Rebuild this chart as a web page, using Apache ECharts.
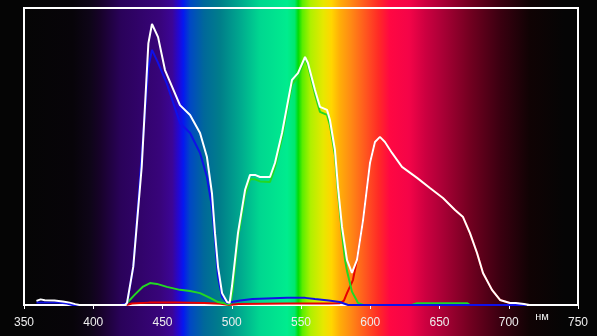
<!DOCTYPE html>
<html>
<head>
<meta charset="utf-8">
<script src="https://cdn.jsdelivr.net/npm/echarts@6/dist/echarts.min.js"></script>
<style>
  html, body { margin: 0; padding: 0; background: #050505; }
  #chart { width: 597px; height: 336px; }
</style>
</head>
<body>
<div id="chart"></div>
<script>
// длина волны, нм
const xTicks = [350, 400, 450, 500, 550, 600, 650, 700, 750]
const unitLabel = 'нм'

// суммарный спектр (белая линия)
const whiteX = [359, 362, 365, 372, 378, 383, 387, 390, 423, 424.4, 428.9, 435, 439.8, 442.4, 446.8, 451.8, 462.6, 469.9, 477.1, 482.1, 485.7, 487.9, 490.1, 493, 496.6, 498.5, 500.2, 504.5, 509.6, 513.2, 516.8, 520.4, 527.6, 531.2, 536.3, 543.5, 547.8, 552.9, 555, 560.1, 563.7, 568.8, 570.9, 574.5, 576.7, 579.6, 583.2, 586.8, 590.4, 594.8, 599.8, 603.4, 607, 610.6, 615.7, 622.9, 633.8, 643.1, 652.5, 661.2, 667, 672, 677.1, 681.4, 687.9, 693.7, 700.9, 705, 711, 715, 750]
const whiteY = [1.4, 1.9, 1.6, 1.5, 1.2, 0.8, 0.3, 0, 0, 0.7, 12.9, 46.6, 88.1, 94.6, 90.2, 79.1, 67.3, 64, 57.9, 49.8, 37.7, 24.2, 12.8, 4, 1, 0.7, 6.4, 24.2, 38.7, 43.8, 43.8, 43.1, 43.1, 47.8, 57.9, 75.8, 78.1, 83.5, 81.5, 72.4, 66.7, 65.7, 62.3, 52.2, 39.7, 26.3, 15.2, 10.8, 15.2, 28.6, 47.8, 54.9, 56.6, 54.9, 51.2, 46.5, 42.8, 39.4, 36, 32, 29.6, 24.2, 17.5, 10.8, 5.1, 1.7, 0.7, 0.7, 0.3, 0, 0]

// синий канал
const blueX = [359, 375, 381, 385, 420, 424.4, 428.9, 439.8, 442.4, 446.8, 453, 462.6, 469.9, 477.1, 482.1, 485.7, 487.9, 490.1, 493, 496.6, 500, 506, 515, 525, 540, 553, 560, 570, 578, 584, 713]
const blueY = [0.8, 0.8, 0.5, 0, 0, 0.5, 12.8, 80, 85.9, 81.5, 74.7, 61.3, 57.9, 51.2, 43.1, 33, 21.9, 9.4, 2.7, 0.7, 1, 1.5, 2, 2.2, 2.4, 2.4, 2, 1.5, 1, 0, 0]

// зелёный канал
const greenX = [423, 424.4, 430, 436, 441, 446, 453.2, 462.6, 469.9, 477.1, 484.3, 490.1, 493.7, 497, 499, 500.5, 504.5, 509.6, 513.2, 516.8, 520.4, 527.6, 531.2, 536.3, 543.5, 547.8, 552.9, 555, 560.1, 563.7, 568.8, 570.9, 574.5, 576.7, 579.6, 581.8, 583.2, 586.8, 591.2, 595, 630, 633.8, 669.9, 672, 713]
const greenY = [0, 0.5, 3.5, 6.2, 7.4, 7.1, 6.1, 5.1, 4.7, 4, 2.4, 1, 0.7, 0.2, 0.3, 4.5, 22.5, 37, 42.3, 42.3, 41.6, 41.4, 46.3, 56.3, 74.3, 76.8, 83, 80.5, 71, 65, 64, 60.5, 50.5, 38, 24, 15.2, 11.5, 4.5, 0.7, 0, 0, 0.6, 0.6, 0, 0]

// красный канал
const redX = [424, 428, 440, 460, 480, 492, 498, 505, 540, 570, 578, 581, 583.2, 587.5, 590.4, 594.8, 599.8, 603.4, 607, 610.6, 615.7, 622.9, 633.8, 643.1, 652.5, 661.2, 667, 672, 677.1, 681.4, 687.9, 693.7, 700.9, 705, 711, 713]
const redY = [0, 0.5, 0.8, 0.8, 0.7, 0.4, 0, 0.3, 0.5, 0.5, 0.6, 1.5, 4, 8.4, 15.2, 28.6, 47.8, 54.9, 56.6, 54.9, 51.2, 46.5, 42.8, 39.4, 36, 32, 29.6, 24.2, 17.5, 10.8, 5.1, 1.7, 0.7, 0.5, 0.2, 0]

// фон: цвета спектра по длине волны
const spectrumWl = [350, 385, 398, 405, 420, 448, 457, 462, 465, 470, 480, 492, 506, 520, 540, 545.5, 548, 551, 557, 566, 572, 578, 586, 598, 606, 614, 628, 640, 650, 672, 694, 715, 740]
const spectrumColor = ['#050505', '#070409', '#0e0518', '#170229', '#2a025a', '#38047a', '#3c0596', '#2208d6', '#0518f0', '#0048c4', '#00689a', '#007f8a', '#00a88e', '#00d690', '#00ec8e', '#00e870', '#00dc08', '#5aee00', '#b0f000', '#e6e800', '#ffd600', '#ffae08', '#ff8a14', '#ff5020', '#ff2a26', '#ff0842', '#f40448', '#cc0040', '#b00038', '#720020', '#3a0010', '#100304', '#050505']

const zip = (xs, ys) => xs.map((x, i) => [x, ys[i]])

const chart = echarts.init(document.getElementById('chart'), null, { renderer: 'canvas' })

function line(name, xs, ys, color, z) {
  return {
    name: name,
    type: 'line',
    data: zip(xs, ys),
    showSymbol: false,
    symbol: 'none',
    z: z,
    lineStyle: { color: color, width: 2 },
    emphasis: { disabled: true }
  }
}

chart.setOption({
  animation: false,
  backgroundColor: 'transparent',
  grid: {
    left: 24,
    right: 19,
    top: 8,
    bottom: 31,
    show: true,
    borderColor: '#ffffff',
    borderWidth: 2,
    backgroundColor: 'transparent'
  },
  xAxis: {
    type: 'value',
    min: 350,
    max: 750,
    interval: 50,
    axisLine: { show: true, lineStyle: { color: '#ffffff', width: 2 } },
    axisTick: { show: true, inside: false, length: 4, lineStyle: { color: '#ffffff', width: 1 } },
    axisLabel: {
      color: '#eeeeee',
      fontSize: 12,
      fontFamily: 'Liberation Sans, Arial, sans-serif',
      margin: 12
    },
    splitLine: { show: false }
  },
  yAxis: {
    type: 'value',
    min: 0,
    max: 100,
    show: false,
    splitLine: { show: false }
  },
  series: [
    line('red', redX, redY, '#e80000', 2),
    line('green', greenX, greenY, '#22d822', 3),
    line('blue', blueX, blueY, '#1010e8', 4),
    line('white', whiteX, whiteY, '#ffffff', 5)
  ]
})

// фон-спектр на всю высоту и подпись единиц
const x0 = chart.convertToPixel({ xAxisIndex: 0 }, 350)
const x1 = chart.convertToPixel({ xAxisIndex: 0 }, 750)
const unitX = chart.convertToPixel({ xAxisIndex: 0 }, 724)
chart.setOption({
  graphic: [
    {
      type: 'rect',
      z: -10,
      silent: true,
      shape: { x: x0, y: 0, width: x1 - x0, height: 336 },
      style: {
        fill: {
          type: 'linear', x: 0, y: 0, x2: 1, y2: 0,
          colorStops: spectrumWl.map((wl, i) => ({ offset: (wl - 350) / 400, color: spectrumColor[i] }))
        }
      }
    },
    {
      type: 'text',
      z: 10,
      silent: true,
      x: unitX,
      y: 317,
      style: {
        text: unitLabel,
        fill: '#eeeeee',
        fontSize: 11,
        fontFamily: 'Liberation Sans, Arial, sans-serif',
        align: 'center',
        verticalAlign: 'middle'
      }
    }
  ]
})
</script>
</body>
</html>
